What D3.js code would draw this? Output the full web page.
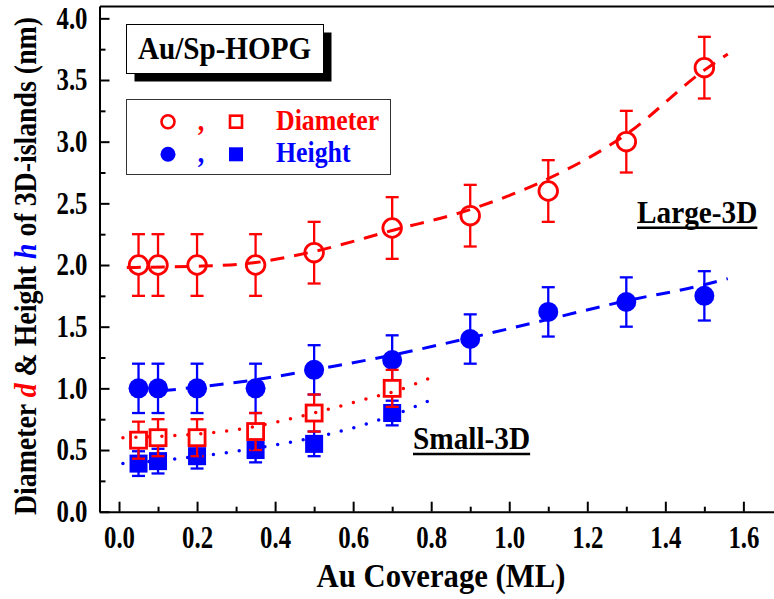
<!DOCTYPE html>
<html><head><meta charset="utf-8">
<script src="https://cdn.jsdelivr.net/npm/d3@7"></script>
<style>
body{margin:0;background:#fff}
text{font-family:"Liberation Serif","Times New Roman",serif;font-weight:bold}
</style>
</head><body>
<svg id="c" width="774" height="599"></svg>
<script>
// ---------- data ----------
const largeCoverage = [0.05, 0.1, 0.2, 0.35, 0.5, 0.7, 0.9, 1.1, 1.3, 1.5];
const largeDiameter = [2.0, 2.0, 2.0, 2.0, 2.1, 2.3, 2.4, 2.6, 3.0, 3.6];
const largeDiameterErr = [0.25, 0.25, 0.25, 0.25, 0.25, 0.25, 0.25, 0.25, 0.25, 0.25];
const largeHeight = [1.0, 1.0, 1.0, 1.0, 1.15, 1.23, 1.4, 1.62, 1.7, 1.75];
const largeHeightErr = [0.2, 0.2, 0.2, 0.2, 0.2, 0.2, 0.2, 0.2, 0.2, 0.2];

const smallCoverage = [0.05, 0.1, 0.2, 0.35, 0.5, 0.7];
const smallDiameter = [0.58, 0.6, 0.6, 0.65, 0.8, 1.0];
const smallDiameterErr = [0.15, 0.15, 0.15, 0.15, 0.15, 0.15];
const smallHeight = [0.39, 0.41, 0.45, 0.5, 0.55, 0.8];
const smallHeightErr = [0.1, 0.1, 0.1, 0.1, 0.1, 0.1];

// guide curves
const fitLargeDiameterX = [0.02, 0.2, 0.35, 0.5, 0.7, 0.9, 1.1, 1.3, 1.5, 1.56];
const fitLargeDiameterY = [1.98, 1.99, 2.02, 2.11, 2.28, 2.45, 2.70, 3.06, 3.58, 3.71];
const fitLargeHeightX = [0.11, 0.35, 0.5, 0.7, 0.9, 1.1, 1.3, 1.5, 1.56];
const fitLargeHeightY = [0.98, 1.07, 1.15, 1.27, 1.41, 1.56, 1.71, 1.84, 1.89];
const fitSmallDiameterX = [0.01, 0.1, 0.2, 0.33, 0.5, 0.64, 0.7, 0.81];
const fitSmallDiameterY = [0.60, 0.61, 0.63, 0.68, 0.80, 0.92, 0.97, 1.10];
const fitSmallHeightX = [0.01, 0.15, 0.3, 0.45, 0.6, 0.7, 0.81];
const fitSmallHeightY = [0.39, 0.43, 0.49, 0.57, 0.68, 0.78, 0.92];

const xTickValues = [0, 0.2, 0.4, 0.6, 0.8, 1.0, 1.2, 1.4, 1.6];
const xTickLabels = ["0.0", "0.2", "0.4", "0.6", "0.8", "1.0", "1.2", "1.4", "1.6"];
const xMinorTicks = [0.1, 0.3, 0.5, 0.7, 0.9, 1.1, 1.3, 1.5, 1.7];
const yTickValues = [0, 0.5, 1.0, 1.5, 2.0, 2.5, 3.0, 3.5, 4.0];
const yTickLabels = ["0.0", "0.5", "1.0", "1.5", "2.0", "2.5", "3.0", "3.5", "4.0"];
const yMinorTicks = [0.25, 0.75, 1.25, 1.75, 2.25, 2.75, 3.25, 3.75];

const RED = "#ff0000", BLUE = "#0000ff";

// ---------- scales ----------
const svg = d3.select("#c");
const x = d3.scaleLinear().domain([-0.05, 1.7]).range([99.5, 782.4]);
const y = d3.scaleLinear().domain([0, 4.1]).range([511.7, 6]);

// condensed text helper: draws text at (tx,ty) with horizontal squeeze s
function ctext(parent, tx, ty, fs, s, str, anchor, fill) {
  return parent.append("text")
    .attr("transform", `translate(${tx},${ty}) scale(${s},1)`)
    .attr("text-anchor", anchor || "start").style("font-size", fs + "px")
    .attr("fill", fill || "#000").text(str);
}

// ---------- axes ----------
const TICK_FS = 31, TICK_S = 0.8;
function styleAxis(g) {
  g.select(".domain").attr("stroke", "#000").attr("stroke-width", 2);
  g.selectAll(".tick line").attr("stroke", "#000").attr("stroke-width", 2);
  g.selectAll(".tick text").attr("fill", "#000").style("font-size", TICK_FS + "px")
    .style("font-family", "'Liberation Serif','Times New Roman',serif").style("font-weight", "bold");
}
const gx = svg.append("g").attr("transform", `translate(0,${y(0)})`)
  .call(d3.axisBottom(x).tickValues(xTickValues).tickFormat((d, i) => xTickLabels[i])
    .tickSizeInner(-10).tickSizeOuter(0).tickPadding(14));
styleAxis(gx);
gx.selectAll(".tick text").attr("transform", `scale(${TICK_S},1)`);
const gxm = svg.append("g").attr("transform", `translate(0,${y(0)})`)
  .call(d3.axisBottom(x).tickValues(xMinorTicks).tickFormat("").tickSizeInner(-5).tickSizeOuter(0));
gxm.select(".domain").remove();
gxm.selectAll(".tick line").attr("stroke", "#000").attr("stroke-width", 2);

const gy = svg.append("g").attr("transform", `translate(${x(-0.05)},0)`)
  .call(d3.axisLeft(y).tickValues(yTickValues).tickFormat((d, i) => yTickLabels[i])
    .tickSizeInner(-10).tickSizeOuter(0).tickPadding(12));
styleAxis(gy);
gy.selectAll(".tick text").attr("x", -12 / TICK_S).attr("transform", `scale(${TICK_S},1)`);
const gym = svg.append("g").attr("transform", `translate(${x(-0.05)},0)`)
  .call(d3.axisLeft(y).tickValues(yMinorTicks).tickFormat("").tickSizeInner(-6).tickSizeOuter(0));
gym.select(".domain").remove();
gym.selectAll(".tick line").attr("stroke", "#000").attr("stroke-width", 2);

// top frame
const gt = svg.append("g").attr("transform", `translate(0,${y(4.1)})`)
  .call(d3.axisTop(x).tickValues([]).tickSizeOuter(0));
gt.select(".domain").attr("stroke", "#000").attr("stroke-width", 2);

// ---------- axis titles ----------
ctext(svg, 441, 587, 33, 0.93, "Au Coverage (ML)", "middle");

const yt = svg.append("text").attr("transform", "translate(36,266) rotate(-90) scale(0.87,1)")
  .attr("text-anchor", "middle").style("font-size", "32px").attr("fill", "#000");
yt.append("tspan").text("Diameter ");
yt.append("tspan").attr("fill", RED).style("font-style", "italic").text("d");
yt.append("tspan").text(" & Height ");
yt.append("tspan").attr("fill", BLUE).style("font-style", "italic").text("h");
yt.append("tspan").text(" of 3D-islands (nm)");

// ---------- helpers ----------
function errorBars(xs, ys, es, color) {
  const g = svg.append("g").attr("stroke", color).attr("stroke-width", 2.3).attr("fill", "none");
  xs.forEach((xv, i) => {
    const cx = x(xv), y1 = y(ys[i] - es[i]), y2 = y(ys[i] + es[i]);
    g.append("line").attr("x1", cx).attr("x2", cx).attr("y1", y1).attr("y2", y2);
    g.append("line").attr("x1", cx - 6.5).attr("x2", cx + 6.5).attr("y1", y1).attr("y2", y1);
    g.append("line").attr("x1", cx - 6.5).attr("x2", cx + 6.5).attr("y1", y2).attr("y2", y2);
  });
}
function circles(xs, ys, color, filled) {
  svg.append("g").selectAll("circle").data(xs).join("circle")
    .attr("cx", d => x(d)).attr("cy", (d, i) => y(ys[i]))
    .attr("r", filled ? 10 : 9.3)
    .attr("fill", filled ? color : "#fff").attr("stroke", color).attr("stroke-width", filled ? 0 : 2.8);
}
function squares(xs, ys, color, filled) {
  const s = filled ? 18 : 16;
  svg.append("g").selectAll("rect").data(xs).join("rect")
    .attr("x", d => x(d) - s / 2).attr("y", (d, i) => y(ys[i]) - s / 2)
    .attr("width", s).attr("height", s)
    .attr("fill", filled ? color : "#fff").attr("stroke", color).attr("stroke-width", filled ? 0 : 2.8);
}
function guide(xs, ys, color, dash, w) {
  const line = d3.line().x(d => x(d[0])).y(d => y(d[1])).curve(d3.curveMonotoneX);
  svg.append("path").datum(xs.map((v, i) => [v, ys[i]])).attr("d", line)
    .attr("fill", "none").attr("stroke", color).attr("stroke-width", w)
    .attr("stroke-dasharray", dash).attr("stroke-linecap", dash.startsWith("0") ? "round" : "butt");
}

// ---------- marks ----------
errorBars(smallCoverage, smallHeight, smallHeightErr, BLUE);
squares(smallCoverage, smallHeight, BLUE, true);
errorBars(largeCoverage, largeHeight, largeHeightErr, BLUE);
circles(largeCoverage, largeHeight, BLUE, true);
errorBars(smallCoverage, smallDiameter, smallDiameterErr, RED);
squares(smallCoverage, smallDiameter, RED, false);
errorBars(largeCoverage, largeDiameter, largeDiameterErr, RED);
circles(largeCoverage, largeDiameter, RED, false);

guide(fitLargeDiameterX, fitLargeDiameterY, RED, "14,10", 3);
guide(fitLargeHeightX, fitLargeHeightY, BLUE, "14,10", 3);
guide(fitSmallDiameterX, fitSmallDiameterY, RED, "0,13", 3.5);
guide(fitSmallHeightX, fitSmallHeightY, BLUE, "0,13", 3.5);

// ---------- title box ----------
svg.append("rect").attr("x", 134.5).attr("y", 32.5).attr("width", 197).attr("height", 49).attr("fill", "#000");
svg.append("rect").attr("x", 126.5).attr("y", 24.5).attr("width", 197).attr("height", 49)
  .attr("fill", "#fff").attr("stroke", "#000").attr("stroke-width", 1);
ctext(svg, 224.5, 59, 31, 0.94, "Au/Sp-HOPG", "middle");

// ---------- legend ----------
svg.append("rect").attr("x", 126.5).attr("y", 99.5).attr("width", 264).attr("height", 75)
  .attr("fill", "#fff").attr("stroke", "#333").attr("stroke-width", 1);
const legendRows = [
  {label: "Diameter", color: RED, filled: false, cy: 121.7},
  {label: "Height", color: BLUE, filled: true, cy: 154.3}
];
legendRows.forEach(r => {
  svg.append("circle").attr("cx", 168).attr("cy", r.cy).attr("r", r.filled ? 7.5 : 6.5)
    .attr("fill", r.filled ? r.color : "#fff").attr("stroke", r.color).attr("stroke-width", r.filled ? 0 : 2.6);
  const s = r.filled ? 14 : 12;
  svg.append("rect").attr("x", 236 - s / 2).attr("y", r.cy - s / 2).attr("width", s).attr("height", s)
    .attr("fill", r.filled ? r.color : "#fff").attr("stroke", r.color).attr("stroke-width", r.filled ? 0 : 2.6);
  ctext(svg, 201, r.cy + 8, 29, 0.9, ",", "middle", r.color);
  ctext(svg, 276, r.cy + 8, 29, 0.89, r.label, "start", r.color);
});

// ---------- annotations ----------
function underlined(tx, ty, label) {
  const s = 0.945;
  const t = ctext(svg, tx, ty, 31, s, label, "start");
  const w = t.node().getComputedTextLength() * s;
  svg.append("line").attr("x1", tx).attr("x2", tx + w).attr("y1", ty + 5).attr("y2", ty + 5)
    .attr("stroke", "#000").attr("stroke-width", 2.6);
}
underlined(637, 222.7, "Large-3D");
underlined(413, 449, "Small-3D");
</script>
</body></html>
